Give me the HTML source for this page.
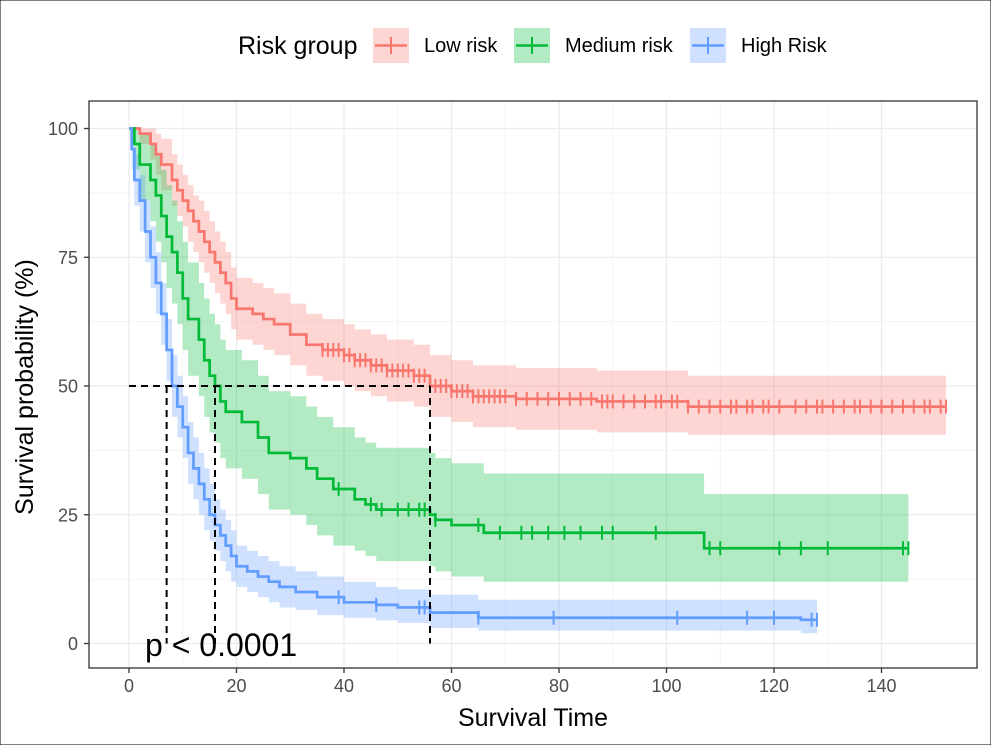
<!DOCTYPE html>
<html><head><meta charset="utf-8"><style>
body{margin:0;background:#fff;}
svg{display:block;font-family:"Liberation Sans",sans-serif;}
</style></head><body>
<svg id="c" width="991" height="745">
<rect x="0" y="0" width="991" height="745" fill="#fff" stroke="#000" stroke-width="1"/>
<g id="grid"></g><g id="bands"></g><g id="lines"></g><g id="dash"></g><g id="axes"></g>
<g>
<text x="238" y="54" font-size="25">Risk group</text>
<g><rect x="373" y="28" width="36" height="35" fill="#F8766D" fill-opacity="0.3"/><line x1="375" y1="45.5" x2="407" y2="45.5" stroke="#F8766D" stroke-width="2.5"/><line x1="391" y1="37" x2="391" y2="54" stroke="#F8766D" stroke-width="2"/><text x="424" y="52" font-size="20">Low risk</text></g>
<g><rect x="514" y="28" width="36" height="35" fill="#00BA38" fill-opacity="0.3"/><line x1="516" y1="45.5" x2="548" y2="45.5" stroke="#00BA38" stroke-width="2.5"/><line x1="532" y1="37" x2="532" y2="54" stroke="#00BA38" stroke-width="2"/><text x="565" y="52" font-size="20">Medium risk</text></g>
<g><rect x="690" y="28" width="36" height="35" fill="#619CFF" fill-opacity="0.3"/><line x1="692" y1="45.5" x2="724" y2="45.5" stroke="#619CFF" stroke-width="2.5"/><line x1="708" y1="37" x2="708" y2="54" stroke="#619CFF" stroke-width="2"/><text x="741" y="52" font-size="20">High Risk</text></g>
</g>
<text x="533" y="726" font-size="25" text-anchor="middle">Survival Time</text>
<text transform="translate(33,387) rotate(-90)" font-size="25" text-anchor="middle">Survival probability (%)</text>
<text x="145" y="656" font-size="32">p &lt; 0.0001</text>
</svg>
<script>
const xTicks=[0,20,40,60,80,100,120,140];
const yTicks=[0,25,50,75,100];
const lowTime=[0,2,4,5,6,8,9,10,11,12,13,14,15,16,17,18,19,20,23,25,27,30,33,36,40,42,45,48,53,56,60,64,72,87,104];
const lowSurv=[100,99,97,95,93,90,88,86,84,82,80,78,76,74,72,70,67,65,64,63,62,60,58,57,56,55,54,53,52,50,49,48,47.5,47,46];
const lowUpper=[100,100,100,99,98,95,93,91,89,87,86,84,82,80,78,76,73,71,70,69,68,66,64,63,62,61,60,59,58,56,55,54,53.5,53,52];
const lowLower=[100,97,94,91,88,85,83,81,78,76,74,72,70,68,66,64,61,59,58,57,56,54,52,51,50,49,48,47,46,44,43,42,41.5,41,40.5];
const lowEnd=152;
const lowCensor=[36,37,38,39,40,41,42,43,44,45,46,47,48,49,50,51,52,53,54,55,56,57,58,59,60,61,62,63,64,65,66,67,68,69,70,72,74,76,78,80,82,84,86,88,89,90,92,94,96,98,99,101,102,104,106,108,110,112,113,115,116,118,119,121,124,126,128,129,131,133,135,136,138,140,142,144,146,148,149,151];
const medTime=[0,1,2,4,5,6,7,8,9,10,11,13,14,15,16,17,18,21,24,26,30,33,35,38,42,44,46,56,57,60,66,107];
const medSurv=[100,97,93,90,87,83,79,76,72,67,63,59,55,52,50,47,45,43,40,37,36,34,32,30,28,27,26,25,24,23,21.5,18.5];
const medUpper=[100,100,99,97,95,92,89,86,82,78,74,70,67,64,62,59,57,55,52,49,48,46,44,42,40,39,38,37,36,35,33,29];
const medLower=[100,92,86,82,78,74,69,66,62,57,52,48,44,41,39,36,34,32,29,26,25,23,21,19,18,17,16,15,14,13,12,12];
const medEnd=145;
const medCensor=[39,45,47,50,52,54,55,57,65,69,73,75,78,81,84,88,90,98,108,110,121,125,130,144];
const highTime=[0,0.5,1,2,3,4,5,6,7,8,9,10,11,12,13,14,15,16,17,18,19,20,22,24,26,28,31,35,40,46,50,56,65,125];
const highSurv=[100,96,90,86,80,75,70,64,57,50,46,42,37,34,31,28,25,23,21,19,17,15,14,13,12,11,10,9,8,7.5,7,6,5,4.6];
const highUpper=[100,99,95,91,86,81,76,70,63,56,52,48,43,40,37,34,31,28,26,24,22,19,18,17,16,15,14,13,12,11,10.5,9.5,8.5,8.5];
const highLower=[100,92,85,80,74,69,64,58,51,44,40,36,31,28,25,22,20,18,16,14,12,11,10,9,8,7,6.5,5.5,5,4.5,4,3,2.5,2];
const highEnd=128;
const highCensor=[39,46,54,55,56,65,79,102,115,120,127];
const medians=[7,16,56];

const NS="http://www.w3.org/2000/svg";
const X=t=>129+t*5.375, Y=v=>643.5-v*5.15;
const PL=89,PR=977,PT=101,PB=668;
function mk(tag,attrs,parent){const e=document.createElementNS(NS,tag);for(const k in attrs)e.setAttribute(k,attrs[k]);parent.appendChild(e);return e;}
const grid=document.getElementById('grid');
mk('rect',{x:PL,y:PT,width:PR-PL,height:PB-PT,fill:'#fff'},grid);
for(let i=0;i<xTicks.length;i++){const x=X(xTicks[i]);
 const g=mk('line',{x1:x,x2:x,y1:PT,y2:PB,stroke:'#ebebeb','stroke-width':1.3},grid);
 
 
 if(i<xTicks.length-1){mk('line',{x1:X(xTicks[i]+10),x2:X(xTicks[i]+10),y1:PT,y2:PB,stroke:'#f2f2f2','stroke-width':0.8},grid);}
}
for(let i=0;i<yTicks.length;i++){const y=Y(yTicks[i]);
 const g=mk('line',{x1:PL,x2:PR,y1:y,y2:y,stroke:'#ebebeb','stroke-width':1.3},grid);
 
 
 if(i<yTicks.length-1){const ym=Y(yTicks[i]+12.5);mk('line',{x1:PL,x2:PR,y1:ym,y2:ym,stroke:'#f2f2f2','stroke-width':0.8},grid);}
}
function stepPath(t,s,end){let d='M'+X(t[0])+','+Y(s[0]);for(let i=1;i<t.length;i++){d+='H'+X(t[i])+'V'+Y(s[i]);}d+='H'+X(end);return d;}
function bandPath(t,up,lo,end){let d='M'+X(t[0])+','+Y(up[0]);for(let i=1;i<t.length;i++){d+='H'+X(t[i])+'V'+Y(up[i]);}d+='H'+X(end)+'V'+Y(lo[lo.length-1]);for(let i=t.length-1;i>=1;i--){d+='H'+X(t[i])+'V'+Y(lo[i-1]);}d+='H'+X(t[0])+'Z';return d;}
function stepVal(t,s,x){let v=s[0];for(let i=0;i<t.length;i++){if(t[i]<=x)v=s[i];}return v;}
const series=[[lowTime,lowSurv,lowUpper,lowLower,lowEnd,lowCensor,'#F8766D','low'],[medTime,medSurv,medUpper,medLower,medEnd,medCensor,'#00BA38','medium'],[highTime,highSurv,highUpper,highLower,highEnd,highCensor,'#619CFF','high']];
const bands=document.getElementById('bands'),lines=document.getElementById('lines');
series.forEach(s=>{
 const b=mk('path',{d:bandPath(s[0],s[2],s[3],s[4]),fill:s[6],'fill-opacity':0.3},bands);
 
 
 const l=mk('path',{d:stepPath(s[0],s[1],s[4]),fill:'none',stroke:s[6],'stroke-width':2.7},lines);
 
 
 s[5].forEach(c=>{const x=X(c),y=Y(stepVal(s[0],s[1],c));
  const m=mk('line',{x1:x,x2:x,y1:y-7,y2:y+7,stroke:s[6],'stroke-width':2},lines);
  
  
 });
 const xe=X(s[4]),ye=Y(s[1][s[1].length-1]);
 mk('line',{x1:xe,x2:xe,y1:ye-7,y2:ye+7,stroke:s[6],'stroke-width':2},lines);
});
const dash=document.getElementById('dash');
mk('line',{x1:X(0),x2:X(medians[2]),y1:Y(50),y2:Y(50),stroke:'#000','stroke-width':2,'stroke-dasharray':'7,5'},dash);
medians.forEach(m=>{const d=mk('line',{x1:X(m),x2:X(m),y1:Y(50),y2:Y(0),stroke:'#000','stroke-width':2,'stroke-dasharray':'7,5'},dash);
 
 });
const axes=document.getElementById('axes');
mk('rect',{x:PL,y:PT,width:PR-PL,height:PB-PT,fill:'none',stroke:'#333','stroke-width':1.3},axes);
xTicks.forEach(v=>{const x=X(v);mk('line',{x1:x,x2:x,y1:PB,y2:PB+5,stroke:'#333','stroke-width':1.3},axes);
 const t=mk('text',{x:x,y:PB+24,'font-size':18,'text-anchor':'middle',fill:'#4d4d4d'},axes);t.textContent=v;
 
 });
yTicks.forEach(v=>{const y=Y(v);mk('line',{x1:PL-5,x2:PL,y1:y,y2:y,stroke:'#333','stroke-width':1.3},axes);
 const t=mk('text',{x:PL-11,y:y+6.5,'font-size':18,'text-anchor':'end',fill:'#4d4d4d'},axes);t.textContent=v;
 
 });
</script>
</body></html>
